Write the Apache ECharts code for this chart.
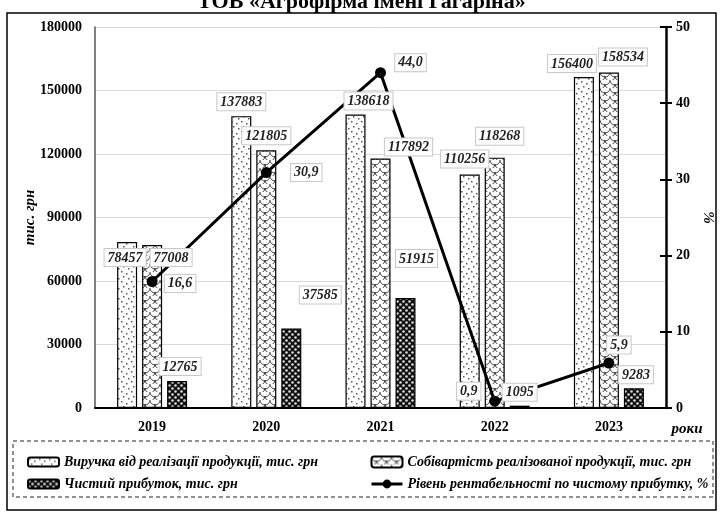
<!DOCTYPE html>
<html>
<head>
<meta charset="utf-8">
<script src="https://cdn.jsdelivr.net/npm/echarts@6/dist/echarts.min.js"></script>
<style>
  html, body { margin: 0; padding: 0; background: #fff; }
  #main { width: 723px; height: 512px; }
</style>
</head>
<body>
<div id="main"></div>
<script>
// дані
var years = ['2019', '2020', '2021', '2022', '2023'];
var revenue = [78457, 137883, 138618, 110256, 156400];
var cost = [77008, 121805, 117892, 118268, 158534];
var profit = [12765, 37585, 51915, 1095, 9283];
var profitability = [16.6, 30.9, 44.0, 0.9, 5.9];
var leftTicks = [0, 30000, 60000, 90000, 120000, 150000, 180000];
var rightTicks = [0, 10, 20, 30, 40, 50];

// зсуви підписів (px)
var revOff = [[-2, 29], [0, -1], [13, 0], [-5, -2], [-12, 0]];
var costOff = [[19, 26], [0, -1], [28, 2], [5, -8], [14, -2]];
var profOff = [[3, -1], [29, -20], [11, -26], [0, 0], [2, 0]];
var lineOff = [[28, 2], [40, 0], [30, -10], [-26, -10], [10, -18]];

var FONT = '"Liberation Serif", "DejaVu Serif", serif';
var barNames = ['Виручка від реалізації продукції, тис. грн',
  'Собівартість реалізованої продукції, тис. грн',
  'Чистий прибуток, тис. грн'];
var lineName = 'Рівень рентабельності по чистому прибутку, %';

function makeTile(w, h, draw) {
  var c = document.createElement('canvas');
  c.width = w; c.height = h;
  var ctx = c.getContext('2d');
  draw(ctx);
  return c;
}
// крапки
var dotTile = makeTile(10, 10, function (ctx) {
  ctx.fillStyle = '#fff'; ctx.fillRect(0, 0, 10, 10);
  ctx.fillStyle = '#555';
  ctx.fillRect(1, 1, 1.5, 1.5);
  ctx.fillRect(6, 3, 1.5, 1.5);
  ctx.fillRect(3, 6, 1.5, 1.5);
  ctx.fillRect(8, 8, 1.5, 1.5);
});
// луска
var scaleTile = makeTile(10, 8, function (ctx) {
  ctx.fillStyle = '#fff'; ctx.fillRect(0, 0, 10, 8);
  ctx.strokeStyle = '#333'; ctx.lineWidth = 0.9;
  ctx.beginPath(); ctx.arc(5, 0, 5, 0, Math.PI); ctx.stroke();
  ctx.beginPath(); ctx.arc(0, 4, 5, 0, Math.PI / 2); ctx.stroke();
  ctx.beginPath(); ctx.arc(10, 4, 5, Math.PI / 2, Math.PI); ctx.stroke();
});
// темні кружечки
var darkTile = makeTile(6, 6, function (ctx) {
  ctx.fillStyle = '#111'; ctx.fillRect(0, 0, 6, 6);
  ctx.fillStyle = '#ddd';
  ctx.beginPath(); ctx.arc(1.5, 1.5, 1.3, 0, Math.PI * 2); ctx.fill();
  ctx.beginPath(); ctx.arc(4.5, 4.5, 1.3, 0, Math.PI * 2); ctx.fill();
});

var labelBox = {
  show: true,
  position: 'top',
  distance: 5,
  fontFamily: FONT,
  fontStyle: 'italic',
  fontWeight: 'bold',
  fontSize: 14,
  color: '#222',
  backgroundColor: '#fff',
  borderColor: '#c8c8c8',
  borderWidth: 1,
  padding: [2, 3, 1, 3]
};

function barData(vals, offs) {
  return vals.map(function (v, i) {
    return { value: v, label: { offset: offs[i] } };
  });
}

// стовпчики без підписів
function barSeries(name, vals, tile) {
  return {
    name: name, type: 'bar', barWidth: 20, barGap: '25%',
    itemStyle: { color: { image: tile, repeat: 'repeat' }, borderColor: '#000', borderWidth: 1.2 },
    data: vals
  };
}
// прозорі копії стовпчиків на прихованій осі - тільки підписи, над лінією
function labelSeries(vals, offs) {
  return {
    type: 'bar', xAxisIndex: 1, z: 10, barWidth: 20, barGap: '25%',
    silent: true, tooltip: { show: false },
    itemStyle: { color: 'transparent', borderWidth: 0 },
    label: labelBox,
    data: barData(vals, offs)
  };
}

var legendText = { fontFamily: FONT, fontStyle: 'italic', fontWeight: 'bold', fontSize: 14, color: '#000' };

var chart = echarts.init(document.getElementById('main'), null, { renderer: 'canvas' });
var option = {
  animation: false,
  textStyle: { fontFamily: FONT },
  grid: { left: 95, right: 48, top: 27, bottom: 104 },
  legend: [{
    left: 22, top: 450, orient: 'vertical', itemGap: 8,
    itemWidth: 31, itemHeight: 9,
    textStyle: legendText,
    data: [barNames[0], barNames[2]]
  }, {
    left: 365, top: 450, orient: 'vertical', itemGap: 8,
    itemWidth: 31, itemHeight: 11,
    textStyle: legendText,
    data: [barNames[1], { name: lineName, lineStyle: { width: 3 } }]
  }],
  graphic: [{
    type: 'text', left: 'center', top: -9, silent: true,
    style: { text: 'ТОВ «Агрофірма імені Гагаріна»', font: 'bold 22px ' + FONT, fill: '#000' }
  }, {
    type: 'rect', shape: { x: 7, y: 13, width: 709, height: 497 },
    style: { fill: 'none', stroke: '#000', lineWidth: 1.5 }, silent: true
  }, {
    type: 'rect', shape: { x: 13, y: 441, width: 700, height: 56 },
    style: { fill: 'none', stroke: '#222', lineWidth: 1, lineDash: [4, 3] }, silent: true
  }],
  xAxis: [{
    type: 'category',
    data: years,
    name: 'роки',
    nameLocation: 'end',
    nameGap: 21,
    nameTextStyle: { fontFamily: FONT, fontStyle: 'italic', fontWeight: 'bold', fontSize: 15, color: '#000',
      align: 'center', verticalAlign: 'top', padding: [14, 0, 0, 0] },
    axisLine: { lineStyle: { color: '#000', width: 2 } },
    axisTick: { show: false },
    axisLabel: { fontFamily: FONT, fontWeight: 'bold', fontSize: 14, color: '#000', margin: 12 }
  }, {
    type: 'category',
    data: years,
    show: false
  }],
  yAxis: [{
    type: 'value',
    min: leftTicks[0], max: leftTicks[leftTicks.length - 1], interval: leftTicks[1] - leftTicks[0],
    name: 'тис. грн',
    nameLocation: 'middle',
    nameGap: 57,
    nameMoveOverlap: false,
    nameRotate: 90,
    nameTextStyle: { fontFamily: FONT, fontStyle: 'italic', fontWeight: 'bold', fontSize: 15, color: '#000' },
    axisLine: { show: true, lineStyle: { color: '#555', width: 1.5 } },
    axisTick: { show: false },
    axisLabel: { fontFamily: FONT, fontWeight: 'bold', fontSize: 14, color: '#000', margin: 13,
      formatter: function (v) { return String(v); } },
    splitLine: { lineStyle: { color: '#d9d9d9', width: 1 } }
  }, {
    type: 'value',
    position: 'right',
    min: rightTicks[0], max: rightTicks[rightTicks.length - 1], interval: rightTicks[1] - rightTicks[0],
    name: '%',
    nameLocation: 'middle',
    nameGap: 34,
    nameMoveOverlap: false,
    nameRotate: -90,
    nameTextStyle: { fontFamily: FONT, fontStyle: 'italic', fontWeight: 'bold', fontSize: 15, color: '#000' },
    axisLine: { show: true, lineStyle: { color: '#000', width: 2.5 } },
    axisTick: { show: true, length: 6, lineStyle: { color: '#000', width: 2 } },
    axisLabel: { fontFamily: FONT, fontWeight: 'bold', fontSize: 14, color: '#000', margin: 10 },
    splitLine: { show: false }
  }, {
    type: 'value',
    position: 'right',
    min: rightTicks[0], max: rightTicks[rightTicks.length - 1], interval: rightTicks[1] - rightTicks[0],
    axisLine: { show: false },
    axisTick: { show: true, inside: true, length: 6, lineStyle: { color: '#000', width: 2 } },
    axisLabel: { show: false },
    splitLine: { show: false }
  }],
  series: [
    barSeries(barNames[0], revenue, dotTile),
    barSeries(barNames[1], cost, scaleTile),
    barSeries(barNames[2], profit, darkTile),
    {
      name: lineName,
      type: 'line',
      yAxisIndex: 1,
      z: 5,
      symbol: 'circle',
      symbolSize: 11,
      lineStyle: { color: '#000', width: 3 },
      itemStyle: { color: '#000' },
      label: Object.assign({}, labelBox, {
        position: 'inside',
        formatter: function (p) { return p.value.toFixed(1).replace('.', ','); }
      }),
      data: profitability.map(function (v, i) {
        return { value: v, label: { offset: lineOff[i] } };
      })
    },
    labelSeries(revenue, revOff),
    labelSeries(cost, costOff),
    labelSeries(profit, profOff)
  ]
};
chart.setOption(option);
</script>
</body>
</html>
